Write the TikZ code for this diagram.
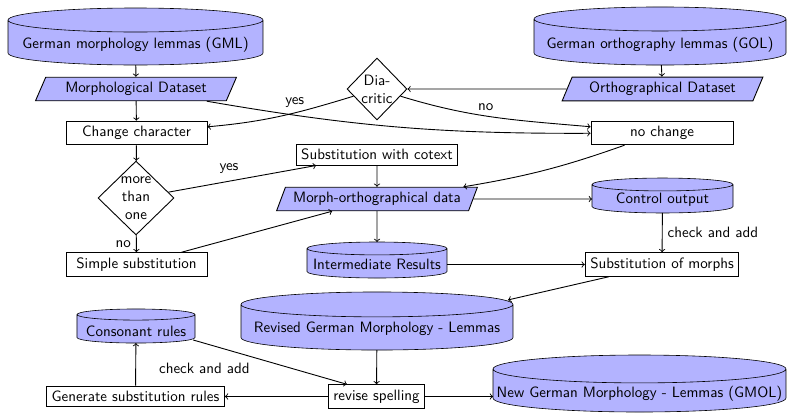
\documentclass[tikz,border=0pt]{standalone}
\usetikzlibrary{shapes.geometric,calc,backgrounds}
\definecolor{dbfill}{RGB}{179,179,255}
% cylinder outline drawn around a (borderless) rectangle node;
% #1 = node name, #2 = half height of the end caps
\newcommand\drawdrum[2]{%
  \path[draw, fill=dbfill]
    let \p1=(#1.south west), \p2=(#1.north east), \n1={(\x2-\x1)/2} in
    (\x1,{\y2-#2}) -- (\x1,{\y1+#2})
    arc[start angle=180, end angle=360, x radius={\n1*1pt}, y radius=#2]
    -- (\x2,{\y2-#2})
    arc[start angle=0, end angle=180, x radius={\n1*1pt}, y radius=#2]
    -- cycle
    (\x1,{\y2-#2})
    arc[start angle=180, end angle=360, x radius={\n1*1pt}, y radius=#2];
}
\begin{document}
\begin{tikzpicture}[x=0.6667pt,y=-0.6667pt, semithick,
  every node/.style={font=\sffamily},
  proc/.style={rectangle, draw},
  data/.style={trapezium, trapezium left angle=70, trapezium right angle=110,
    trapezium stretches=true, draw, fill=dbfill, minimum width=134pt, minimum height=14.7pt},
  store/.style={rectangle, outer sep=0pt, inner sep=0pt, text depth=1.9pt},
  decide/.style={diamond, draw, align=center, inner sep=0pt},
  arr/.style={->}]
\useasboundingbox (0,0) rectangle (787,413);

% data stores (outlines are added on the background layer below)
\node[store, minimum width=170pt, minimum height=38pt, text height=17.9pt] (gml) at (135.5,36.5) {German morphology lemmas (GML)};
\node[store, minimum width=168pt, minimum height=38.7pt, text height=17.9pt] (gol) at (660,36) {German orthography lemmas (GOL)};
\node[store, minimum width=94pt, minimum height=23.3pt, text height=12.7pt] (ctrl) at (662.5,195.5) {Control output};
\node[store, minimum width=93.3pt, minimum height=24pt, text height=15.2pt] (inter) at (377,260) {Intermediate Results};
\node[store, minimum width=78.7pt, minimum height=22.7pt, text height=15.6pt] (cons) at (136,326) {Consonant rules};
\node[store, minimum width=181.3pt, minimum height=38.7pt, text height=17.7pt] (rev) at (377,321) {Revised German Morphology - Lemmas};
\node[store, minimum width=195.3pt, minimum height=38pt, text height=21.2pt] (gmol) at (639.5,383.5) {New German Morphology - Lemmas (GMOL)};

% datasets
\node[data] (mds) at (136,89) {Morphological Dataset};
\node[data] (ods) at (662.5,89) {Orthographical Dataset};
\node[data] (mto) at (377,199) {Morph-orthographical data};

% decisions
\node[decide, minimum width=40pt, minimum height=41.3pt] (dia) at (377,89) {Dia-\\critic};
\node[decide, minimum width=50.7pt, minimum height=49.3pt] (mto1) at (136,198) {more\\than\\one};

% processing steps
\node[proc, minimum width=94pt] (chg) at (136.5,133) {Change character};
\node[proc, minimum width=94.7pt] (noch) at (662,133) {no change};
\node[proc] (sub) at (377,154.5) {Substitution with cotext};
\node[proc, minimum width=94pt] (simp) at (136.5,264.5) {Simple substitution};
\node[proc] (som) at (662,264.5) {Substitution of morphs};
\node[proc] (gen) at (135.5,396.5) {Generate substitution rules};
\node[proc] (rsp) at (376.5,396.5) {revise spelling};

\begin{scope}[on background layer]
  \drawdrum{gml}{8pt}
  \drawdrum{gol}{8pt}
  \drawdrum{ctrl}{4.3pt}
  \drawdrum{inter}{4.3pt}
  \drawdrum{cons}{3.7pt}
  \drawdrum{rev}{8.3pt}
  \drawdrum{gmol}{9.3pt}
\end{scope}

% connectors
\draw[arr] (gml) -- (mds);
\draw[arr] (gol) -- (ods);
\draw[arr] (mds) -- (chg);
\draw[arr] (ods) -- (dia);
\draw[arr] (dia) to[out=197,in=5] node[pos=0.4,above]{yes} (chg);
\draw[arr] (dia) to[out=-17,in=175] node[pos=0.45,above]{no} (noch);
\draw[arr] (mds) to[bend right=5] (noch);
\draw[arr] (chg) -- (mto1);
\draw[arr] (mto1) -- node[left]{no} (simp);
\draw[arr] (mto1) -- node[pos=0.41,above=1.5pt]{yes} (sub);
\draw[arr] (sub) -- (mto);
\draw[arr] (simp) -- (mto);
\draw[arr] (noch) to[bend left=5] (mto);
\draw[arr] (mto) -- (mto -| ctrl.west);
\draw[arr] (mto) -- (inter);
\draw[arr] (ctrl) -- node[right]{check and add} (som);
\draw[arr] (som -| inter.east) -- (som);
\draw[arr] (som) -- ([xshift=-3.3pt,yshift=-5.3pt]rev.north east);
\draw[arr] (rev) -- (rsp);
\draw[arr] (rsp) -- (gen);
\draw[arr] (rsp) -- (rsp -| gmol.west);
\draw[arr] (gen) -- node[pos=0.4,right=12pt]{check and add} (cons);
\draw[arr] ([xshift=-1.3pt,yshift=-9.3pt]cons.east) -- ([xshift=12.7pt]rsp.north west);
\end{tikzpicture}
\end{document}
